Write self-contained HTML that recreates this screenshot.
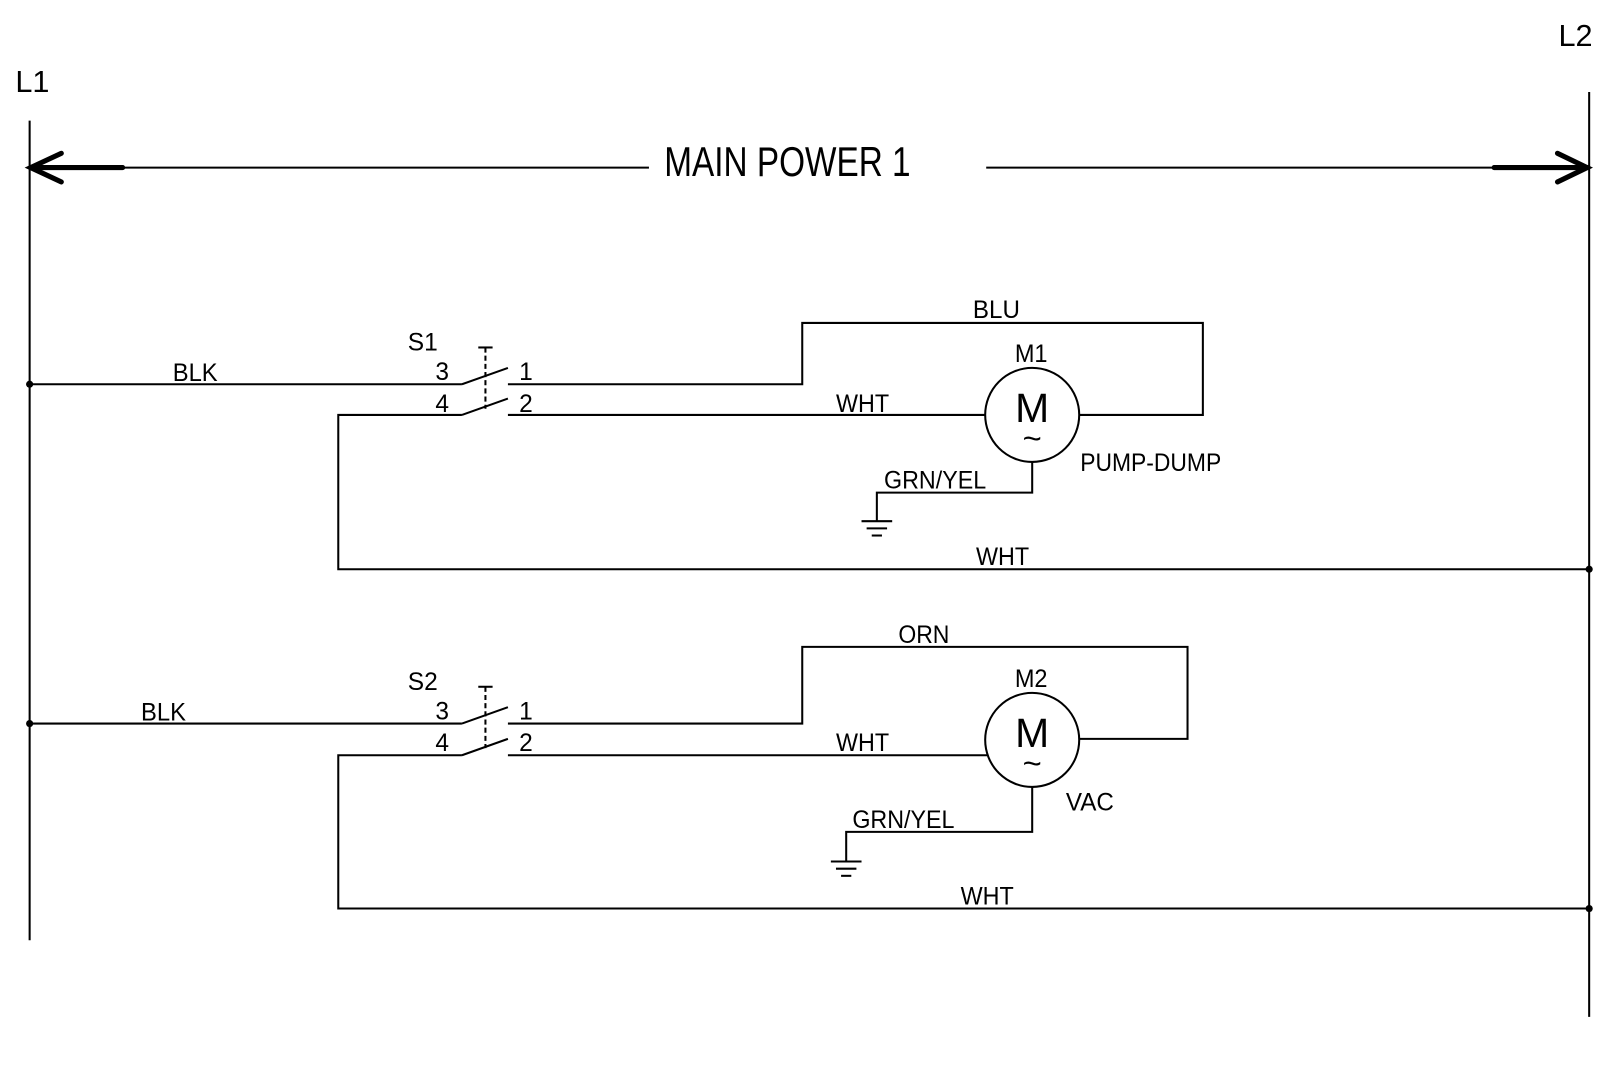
<!DOCTYPE html>
<html><head><meta charset="utf-8"><style>
html,body{margin:0;padding:0;background:#fff;}
svg{display:block;}
text{font-family:"Liberation Sans",sans-serif;fill:#000;}
</style></head><body>
<svg width="1600" height="1079" viewBox="0 0 1565.6 1055.8" xmlns="http://www.w3.org/2000/svg">
<g stroke="#000" stroke-width="2" fill="none">
<line x1="29" y1="118" x2="29" y2="920"/>
<line x1="1555" y1="90" x2="1555" y2="995"/>
<line x1="120" y1="164" x2="635" y2="164"/>
<line x1="965" y1="164" x2="1462" y2="164"/>
<g stroke-width="5" stroke-linecap="round">
<line x1="30" y1="164" x2="120" y2="164"/>
<polyline points="60,150 30,164 60,178"/>
<line x1="1462" y1="164" x2="1553" y2="164"/>
<polyline points="1524,150 1553,164 1524,178"/>
</g>
<line x1="29" y1="376" x2="452" y2="376"/>
<line x1="452" y1="376" x2="497" y2="360"/>
<line x1="452" y1="406" x2="497" y2="390"/>
<polyline points="497,376 785,376 785,316 1177,316 1177,406 1056,406"/>
<line x1="497" y1="406" x2="964" y2="406"/>
<polyline points="452,406 331,406 331,557 1555,557"/>
<line x1="475" y1="340" x2="475" y2="400" stroke-dasharray="5,3"/>
<line x1="468" y1="340" x2="482" y2="340"/>
<circle cx="1010" cy="406" r="46"/>
<polyline points="1010,452 1010,482 858,482 858,510"/>
<line x1="843" y1="510" x2="873" y2="510"/>
<line x1="848" y1="517" x2="868" y2="517"/>
<line x1="853" y1="524" x2="863" y2="524"/>
<line x1="29" y1="708" x2="452" y2="708"/>
<line x1="452" y1="708" x2="497" y2="692"/>
<line x1="452" y1="739" x2="497" y2="723"/>
<polyline points="497,708 785,708 785,633 1162,633 1162,723 1056,723"/>
<line x1="497" y1="739" x2="966" y2="739"/>
<polyline points="452,739 331,739 331,889 1555,889"/>
<line x1="475" y1="672" x2="475" y2="732" stroke-dasharray="5,3"/>
<line x1="468" y1="672" x2="482" y2="672"/>
<circle cx="1010" cy="724" r="46"/>
<polyline points="1010,770 1010,814 828,814 828,843"/>
<line x1="813" y1="843" x2="843" y2="843"/>
<line x1="818" y1="850" x2="838" y2="850"/>
<line x1="823" y1="857" x2="833" y2="857"/>
</g>
<g fill="#000">
<circle cx="29" cy="376" r="3.5"/>
<circle cx="29" cy="708" r="3.5"/>
<circle cx="1555" cy="557" r="3.5"/>
<circle cx="1555" cy="889" r="3.5"/>
</g>
<text x="15" y="90" font-size="30">L1</text>
<text x="1525" y="45" font-size="30">L2</text>
<text x="650" y="172" font-size="41" textLength="241" lengthAdjust="spacingAndGlyphs">MAIN POWER 1</text>
<g font-size="24">
<text x="169" y="373" textLength="44" lengthAdjust="spacingAndGlyphs">BLK</text>
<text x="399" y="343">S1</text>
<text x="426" y="372">3</text>
<text x="426" y="403">4</text>
<text x="508" y="372">1</text>
<text x="508" y="403">2</text>
<text x="818" y="403" textLength="52" lengthAdjust="spacingAndGlyphs">WHT</text>
<text x="952" y="311" textLength="46" lengthAdjust="spacingAndGlyphs">BLU</text>
<text x="993" y="354" textLength="32" lengthAdjust="spacingAndGlyphs">M1</text>
<text x="865" y="478" textLength="100" lengthAdjust="spacingAndGlyphs">GRN/YEL</text>
<text x="1057" y="461" textLength="138" lengthAdjust="spacingAndGlyphs">PUMP-DUMP</text>
<text x="955" y="553" textLength="52" lengthAdjust="spacingAndGlyphs">WHT</text>
<text x="138" y="705" textLength="44" lengthAdjust="spacingAndGlyphs">BLK</text>
<text x="399" y="675">S2</text>
<text x="426" y="704">3</text>
<text x="426" y="735">4</text>
<text x="508" y="704">1</text>
<text x="508" y="735">2</text>
<text x="818" y="735" textLength="52" lengthAdjust="spacingAndGlyphs">WHT</text>
<text x="879" y="629" textLength="50" lengthAdjust="spacingAndGlyphs">ORN</text>
<text x="993" y="672" textLength="32" lengthAdjust="spacingAndGlyphs">M2</text>
<text x="834" y="810" textLength="100" lengthAdjust="spacingAndGlyphs">GRN/YEL</text>
<text x="1043" y="793" textLength="47" lengthAdjust="spacingAndGlyphs">VAC</text>
<text x="940" y="885" textLength="52" lengthAdjust="spacingAndGlyphs">WHT</text>
</g>
<g font-size="40" text-anchor="middle">
<text x="1010" y="413">M</text>
<text x="1010" y="731">M</text>
</g>
<g font-size="32" text-anchor="middle">
<text x="1010" y="440">~</text>
<text x="1010" y="758">~</text>
</g>
</svg>
</body></html>
